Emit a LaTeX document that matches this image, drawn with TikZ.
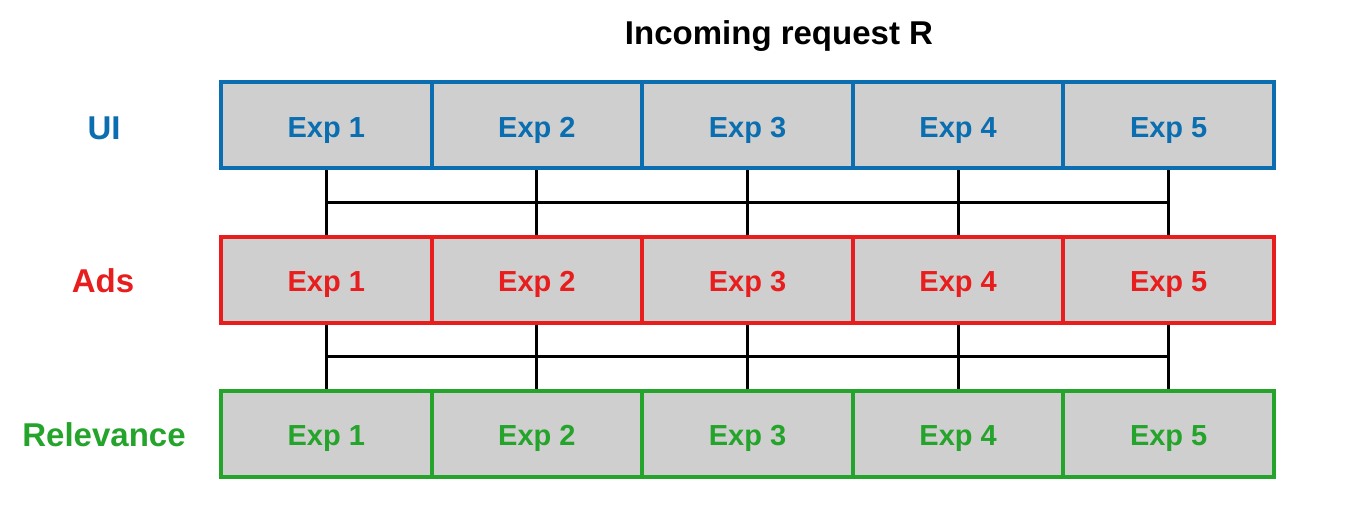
\documentclass[tikz,border=0pt]{standalone}
\usepackage{fontspec}
\setmainfont{Liberation Sans}
\usetikzlibrary{calc}
\definecolor{uiblue}{RGB}{10,110,176}
\definecolor{adsred}{RGB}{232,30,30}
\definecolor{relgreen}{RGB}{36,164,42}
\definecolor{boxgray}{RGB}{207,207,207}
\begin{document}
\begin{tikzpicture}[x=1pt,y=-1pt,
  expbox/.style={draw=#1, fill=boxgray, line width=4pt, minimum width=210.6pt, minimum height=86pt, inner sep=0pt, text height=23.8pt, text depth=0pt, text=#1, font=\fontsize{29}{29}\selectfont\bfseries},
  rowlabel/.style={text=#1, anchor=base, inner sep=0pt, font=\fontsize{33}{33}\selectfont\bfseries},
  conn/.style={draw=black, line width=3pt}]
\useasboundingbox (0,0) rectangle (1361,508);
\node[anchor=base, inner sep=0pt, font=\fontsize{33}{33}\selectfont\bfseries] (title) at (779,45) {Incoming request R};
\node[rowlabel=uiblue] (lui) at (104,139.5) {UI};
\node[rowlabel=adsred] (lads) at (103,292.5) {Ads};
\node[rowlabel=relgreen] (lrel) at (104,446) {Relevance};
\foreach \i in {1,...,5}{
  \pgfmathsetmacro{\cx}{221+210.6*(\i-0.5)}
  \node[expbox=uiblue] (u\i) at (\cx,125.5) {Exp \i};
  \node[expbox=adsred] (a\i) at (\cx,279.5) {Exp \i};
  \node[expbox=relgreen] (r\i) at (\cx,433.5) {Exp \i};
}
\foreach \i in {1,...,5}{
  \draw[conn] (u\i.south) -- (a\i.north);
  \draw[conn] (a\i.south) -- (r\i.north);
}
\coordinate (h1a) at ($(u1.south)!0.5!(a1.north)$);
\coordinate (h1b) at ($(u5.south)!0.5!(a5.north)$);
\coordinate (h2a) at ($(a1.south)!0.5!(r1.north)$);
\coordinate (h2b) at ($(a5.south)!0.5!(r5.north)$);
\draw[conn] (h1a) -- (h1b);
\draw[conn] (h2a) -- (h2b);
\end{tikzpicture}
\end{document}
